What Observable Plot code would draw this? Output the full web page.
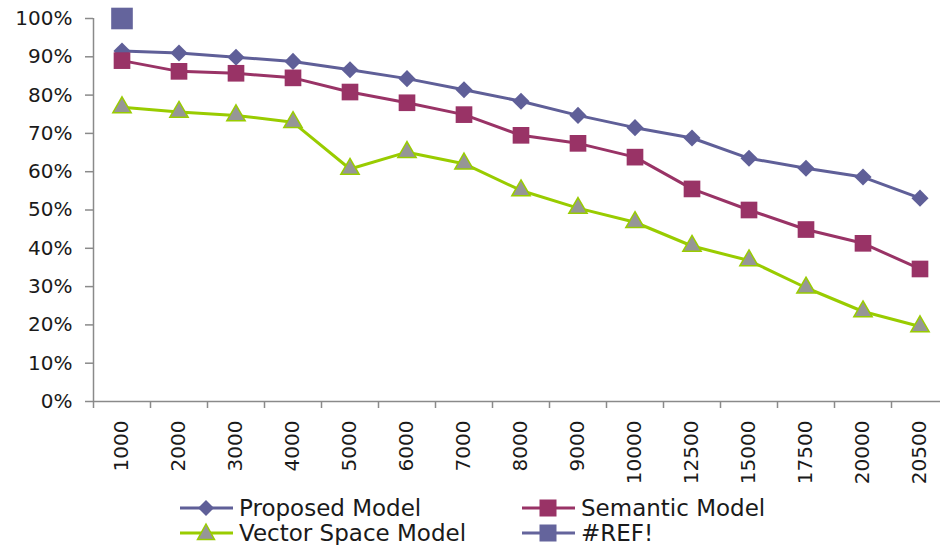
<!DOCTYPE html>
<html>
<head>
<meta charset="utf-8">
<script src="https://cdn.jsdelivr.net/npm/d3@7"></script>
<script src="https://cdn.jsdelivr.net/npm/@observablehq/plot@0.6"></script>
<style>
  html, body { margin: 0; padding: 0; background: #fff; }
  #wrap { position: relative; width: 940px; height: 545px; overflow: hidden; font-family: "DejaVu Sans", sans-serif; color: #1a1a1a; }
  .leg { position: absolute; display: flex; align-items: center; font-size: 23px; white-space: nowrap; height: 24px; }
  .leg svg { margin-right: 6px; }
</style>
</head>
<body>
<div id="wrap"></div>
<script>
const categories = ["1000","2000","3000","4000","5000","6000","7000","8000","9000","10000","12500","15000","17500","20000","20500"];
const proposed = [0.915,0.910,0.899,0.888,0.866,0.843,0.814,0.784,0.747,0.715,0.688,0.635,0.609,0.586,0.531];
const semantic = [0.890,0.862,0.857,0.845,0.808,0.780,0.749,0.695,0.674,0.638,0.555,0.500,0.449,0.413,0.346];
const vectorSpace = [0.768,0.756,0.747,0.729,0.607,0.651,0.621,0.551,0.505,0.468,0.406,0.368,0.297,0.235,0.196];
const refCategories = ["1000"];
const refValues = [1.0];
const yTicks = [0,0.1,0.2,0.3,0.4,0.5,0.6,0.7,0.8,0.9,1.0];
const seriesNames = ["Proposed Model","Semantic Model","Vector Space Model","#REF!"];

const colors = {
  "Proposed Model": "#5f5f98",
  "Semantic Model": "#993366",
  "Vector Space Model": "#99cc00",
  "#REF!": "#64649c"
};

const toRows = (vals, name) => vals.map((v, i) => ({cat: categories[i], v, series: name}));
const pRows = toRows(proposed, "Proposed Model");
const sRows = toRows(semantic, "Semantic Model");
const vRows = toRows(vectorSpace, "Vector Space Model");
const rRows = refCategories.map((c, i) => ({cat: c, v: refValues[i], series: "#REF!"}));

const left = 93, bw = 57;
const axisGrey = "#8a8a8a";

const chart = Plot.plot({
  width: 940,
  height: 490,
  marginLeft: left,
  marginRight: 0,
  marginTop: 18,
  marginBottom: 89,
  style: {fontFamily: "DejaVu Sans, sans-serif", color: "#1a1a1a", background: "#fff", overflow: "visible"},
  x: {type: "band", domain: categories, range: [left, left + bw * categories.length], padding: 0},
  y: {domain: [0, 1]},
  marks: [
    Plot.ruleY([0], {stroke: axisGrey, strokeWidth: 1.5}),
    Plot.ruleX([categories[0]], {x: d => d, dx: -bw / 2, y1: 0, y2: 1, stroke: axisGrey, strokeWidth: 1.5}),
    Plot.axisY({ticks: yTicks, tickFormat: d3.format(".0%"), tickSize: 8, tickPadding: 13, fontSize: 20, stroke: axisGrey, strokeWidth: 1.5, fill: "#1a1a1a", label: null}),
    Plot.axisX({tickSize: 7, dx: -bw / 2, tickFormat: () => "", stroke: axisGrey, strokeWidth: 1.5, label: null}),
    Plot.axisX({tickSize: 0, tickPadding: 19, tickRotate: -90, fontSize: 20, fill: "#1a1a1a", label: null}),
    Plot.line(pRows, {x: "cat", y: "v", stroke: colors["Proposed Model"], strokeWidth: 3}),
    Plot.line(sRows, {x: "cat", y: "v", stroke: colors["Semantic Model"], strokeWidth: 3}),
    Plot.line(vRows, {x: "cat", y: "v", stroke: colors["Vector Space Model"], strokeWidth: 3}),
    Plot.dot(pRows, {x: "cat", y: "v", symbol: "diamond2", r: 7.7, fill: colors["Proposed Model"], stroke: "none"}),
    Plot.dot(sRows, {x: "cat", y: "v", symbol: "square", r: 9.4, fill: colors["Semantic Model"], stroke: "none"}),
    Plot.dot(vRows, {x: "cat", y: "v", symbol: "triangle", r: 6.8, fill: "#969696", stroke: colors["Vector Space Model"], strokeWidth: 1.5}),
    Plot.dot(rRows, {x: "cat", y: "v", symbol: "square", r: 12.2, fill: colors["#REF!"], stroke: "none"})
  ]
});

const wrap = document.getElementById("wrap");
chart.style.position = "absolute";
chart.style.left = "0px";
chart.style.top = "0px";
wrap.appendChild(chart);

// Legend
const symbolPaths = {
  "Proposed Model": `<path d="M26,4 L34,12 L26,20 L18,12 Z" fill="${colors["Proposed Model"]}"/>`,
  "Semantic Model": `<rect x="17.5" y="3.5" width="17" height="17" fill="${colors["Semantic Model"]}"/>`,
  "Vector Space Model": `<path d="M26,3 L34.5,18.5 L17.5,18.5 Z" fill="#969696" stroke="${colors["Vector Space Model"]}" stroke-width="1.5"/>`,
  "#REF!": `<rect x="17.5" y="3.5" width="17" height="17" fill="${colors["#REF!"]}"/>`
};
const legPos = [
  {left: 180, top: 496},
  {left: 522, top: 496},
  {left: 180, top: 521},
  {left: 522, top: 521}
];
seriesNames.forEach((name, i) => {
  const d = document.createElement("div");
  d.className = "leg";
  d.style.left = legPos[i].left + "px";
  d.style.top = legPos[i].top + "px";
  d.innerHTML = `<svg width="53" height="24" viewBox="0 0 53 24"><line x1="0" y1="12" x2="53" y2="12" stroke="${colors[name]}" stroke-width="3"/>${symbolPaths[name]}</svg><span>${name}</span>`;
  wrap.appendChild(d);
});
</script>
</body>
</html>
